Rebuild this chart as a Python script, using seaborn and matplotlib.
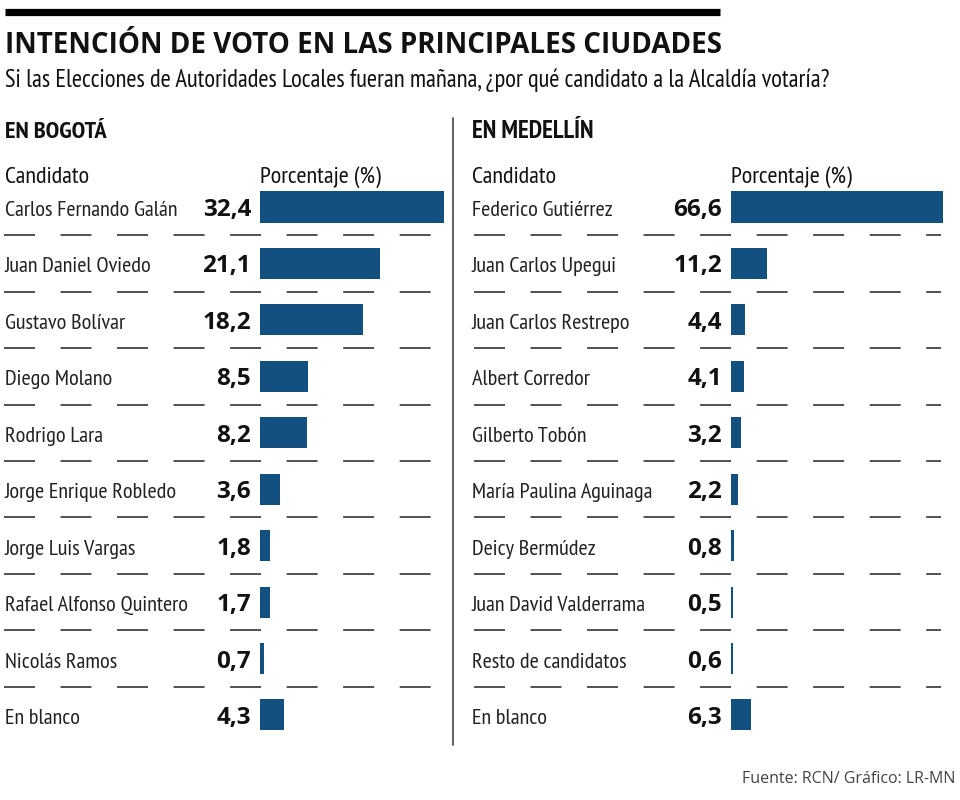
import matplotlib
matplotlib.use("Agg")
import matplotlib.pyplot as plt
from matplotlib.transforms import blended_transform_factory
from matplotlib.lines import Line2D
import seaborn as sns
import pandas as pd

# ---------------- data ----------------
title = "INTENCIÓN DE VOTO EN LAS PRINCIPALES CIUDADES"
subtitle = "Si las Elecciones de Autoridades Locales fueran mañana, ¿por qué candidato a la Alcaldía votaría?"
source = "Fuente: RCN/ Gráfico: LR-MN"

bogota_title = "EN BOGOTÁ"
bogota_candidates = ["Carlos Fernando Galán", "Juan Daniel Oviedo", "Gustavo Bolívar",
                     "Diego Molano", "Rodrigo Lara", "Jorge Enrique Robledo",
                     "Jorge Luis Vargas", "Rafael Alfonso Quintero", "Nicolás Ramos",
                     "En blanco"]
bogota_values = [32.4, 21.1, 18.2, 8.5, 8.2, 3.6, 1.8, 1.7, 0.7, 4.3]

medellin_title = "EN MEDELLÍN"
medellin_candidates = ["Federico Gutiérrez", "Juan Carlos Upegui", "Juan Carlos Restrepo",
                       "Albert Corredor", "Gilberto Tobón", "María Paulina Aguinaga",
                       "Deicy Bermúdez", "Juan David Valderrama", "Resto de candidatos",
                       "En blanco"]
medellin_values = [66.6, 11.2, 4.4, 4.1, 3.2, 2.2, 0.8, 0.5, 0.6, 6.3]

col_header_name = "Candidato"
col_header_value = "Porcentaje (%)"

# ---------------- style ----------------
sns.set_theme(style="white")
NARROW = ["PT Sans Narrow", "DejaVu Sans"]
WIDE = ["Open Sans", "DejaVu Sans"]
plt.rcParams["font.family"] = NARROW
plt.rcParams["lines.scale_dashes"] = False

W, H = 960, 800
BAR_COLOR = "#14507f"
TEXT = "#111111"
fig = plt.figure(figsize=(W / 100, H / 100), dpi=100)
fig.patch.set_facecolor("white")


def fx(px):
    return px / W


def fy(py):
    return 1 - py / H


# top black rule
fig.add_artist(Line2D([fx(5), fx(720)], [fy(11.5), fy(11.5)], color="black", lw=5.2,
                      solid_capstyle="butt"))
fig.text(fx(5), fy(53), title, fontsize=20, fontweight="bold", color=TEXT,
         va="baseline", ha="left", family=WIDE)
fig.text(fx(5), fy(87), subtitle, fontsize=17.75, color=TEXT, va="baseline", ha="left")

# vertical separator
fig.add_artist(Line2D([fx(453), fx(453)], [fy(118), fy(745)], color="#555555", lw=1.3))

row0 = 207.0
step = 56.44
top = row0 - step / 2
bottom = top + step * 10
base_off = 9.0 / step  # baseline offset below row centre, in row units

panels = [
    dict(title=bogota_title, names=bogota_candidates, vals=bogota_values,
         x_left=5, bar_x0=260, bar_x1=444, vmax=32.4, val_right=251,
         dash_x0=4, dash_x1=432, title_size=17.6),
    dict(title=medellin_title, names=medellin_candidates, vals=medellin_values,
         x_left=472, bar_x0=731, bar_x1=943, vmax=66.6, val_right=722,
         dash_x0=474, dash_x1=941, title_size=18),
]

for p in panels:
    ax_l, ax_r = p["x_left"] - 5, p["x_left"] + 480
    ax = fig.add_axes([fx(ax_l), fy(bottom), fx(ax_r - ax_l), (bottom - top) / H])
    df = pd.DataFrame({"name": p["names"], "val": p["vals"]})
    sns.barplot(data=df, x="val", y="name", orient="h", color=BAR_COLOR,
                saturation=1, width=0.55, ax=ax, linewidth=0)
    scale = (p["bar_x1"] - p["bar_x0"]) / p["vmax"]  # px per unit
    ax.set_xlim((ax_l - p["bar_x0"]) / scale, (ax_r - p["bar_x0"]) / scale)
    ax.set_ylim(len(p["names"]) - 0.5, -0.5)
    ax.axis("off")

    tr = blended_transform_factory(fig.transFigure, ax.transData)
    for i, (n, v) in enumerate(zip(p["names"], p["vals"])):
        ax.text(fx(p["x_left"]), i + base_off, n, transform=tr, ha="left",
                va="baseline", fontsize=16, color="#222222")
        ax.text(fx(p["val_right"]), i + base_off, f"{v:.1f}".replace(".", ","),
                transform=tr, ha="right", va="baseline", fontsize=17.5,
                fontweight="bold", color=TEXT, family=WIDE)
    for i in range(len(p["names"]) - 1):
        ln = Line2D([fx(p["dash_x0"]), fx(p["dash_x1"])], [i + 0.5, i + 0.5],
                    transform=tr, color="#333333", lw=1.2,
                    dashes=(22.3, 18.4))
        ax.add_artist(ln)

    fig.text(fx(p["x_left"]), fy(138), p["title"], fontsize=p["title_size"],
             fontweight="bold", color=TEXT, va="baseline", ha="left")
    fig.text(fx(p["x_left"]), fy(183), col_header_name, fontsize=17.5,
             color=TEXT, va="baseline", ha="left")
    fig.text(fx(p["bar_x0"]), fy(183), col_header_value, fontsize=17.5,
             color=TEXT, va="baseline", ha="left")

fig.text(fx(955), fy(779), source, fontsize=11.5, color="#444444", ha="right",
         va="center", family=WIDE)

fig.savefig("out.png", dpi=100, facecolor="white")
